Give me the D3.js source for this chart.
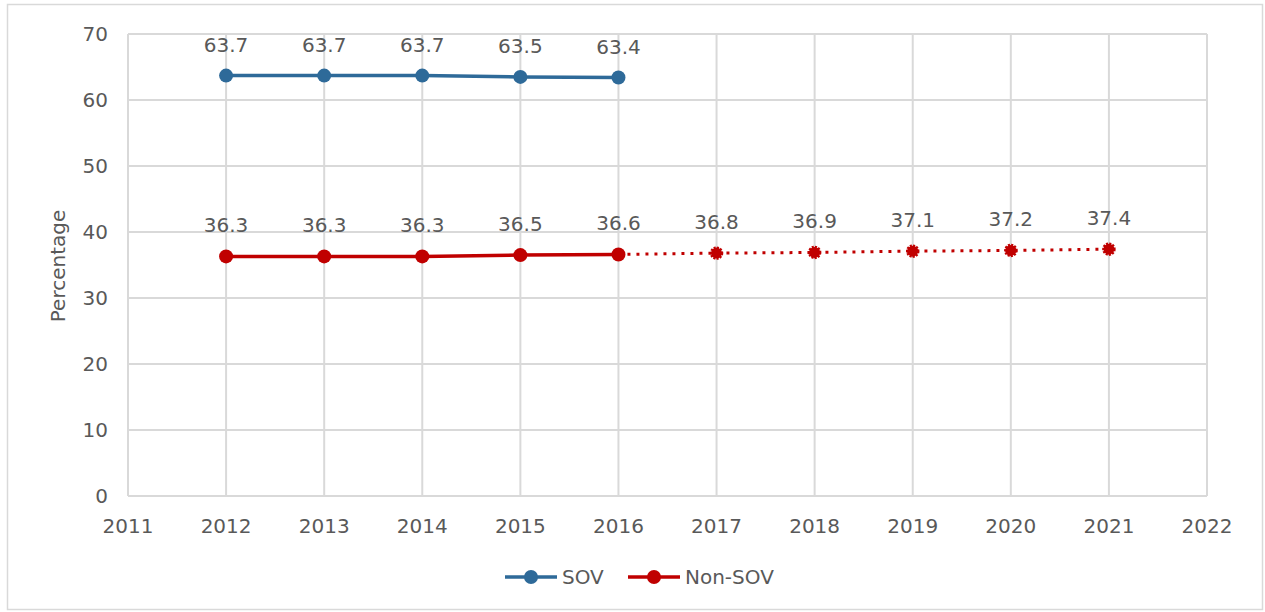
<!DOCTYPE html>
<html>
<head>
<meta charset="utf-8">
<script src="https://cdn.jsdelivr.net/npm/d3@7"></script>
<style>
  body { margin: 0; background: #fff; }
  svg { display: block; }
</style>
</head>
<body>
<div class="chart"></div>
<script>
// data
var yearTicks = [2011, 2012, 2013, 2014, 2015, 2016, 2017, 2018, 2019, 2020, 2021, 2022];
var yTicks = [0, 10, 20, 30, 40, 50, 60, 70];
var sovYears = [2012, 2013, 2014, 2015, 2016];
var sovValues = [63.7, 63.7, 63.7, 63.5, 63.4];
var nonSovYears = [2012, 2013, 2014, 2015, 2016];
var nonSovValues = [36.3, 36.3, 36.3, 36.5, 36.6];
var projYears = [2016, 2017, 2018, 2019, 2020, 2021];
var projValues = [36.6, 36.8, 36.9, 37.1, 37.2, 37.4];

var sovColor = "#2e6a99";
var redColor = "#c00000";
var textColor = "#595959";
var gridColor = "#d9d9d9";
var font = "'DejaVu Sans', Verdana, sans-serif";
var fontSize = "20px";

var svg = d3.select(".chart")
    .append("svg")
    .attr("width", 1265)
    .attr("height", 612);

// outer frame
svg.append("rect")
    .attr("x", 7.5)
    .attr("y", 4.5)
    .attr("width", 1255)
    .attr("height", 605)
    .attr("fill", "#fff")
    .style("stroke", gridColor)
    .style("stroke-width", 1.5);

var x = d3.scaleLinear().domain([2011, 2022]).range([128, 1207]);
var y = d3.scaleLinear().domain([0, 70]).range([496, 34]);

// gridlines
svg.append("g")
    .selectAll("line.h")
    .data(yTicks)
    .enter()
    .append("line")
    .attr("x1", x(2011))
    .attr("x2", x(2022))
    .attr("y1", function (d) { return y(d); })
    .attr("y2", function (d) { return y(d); })
    .style("stroke", gridColor)
    .style("stroke-width", 2);

svg.append("g")
    .selectAll("line.v")
    .data(yearTicks)
    .enter()
    .append("line")
    .attr("x1", function (d) { return x(d); })
    .attr("x2", function (d) { return x(d); })
    .attr("y1", y(0))
    .attr("y2", y(70))
    .style("stroke", gridColor)
    .style("stroke-width", 2);

// tick labels
svg.append("g")
    .selectAll("text")
    .data(yTicks)
    .enter()
    .append("text")
    .attr("x", 108)
    .attr("y", function (d) { return y(d) + 7; })
    .attr("text-anchor", "end")
    .text(function (d) { return d; })
    .style("font-size", fontSize)
    .attr("font-family", font)
    .attr("fill", textColor);

svg.append("g")
    .selectAll("text")
    .data(yearTicks)
    .enter()
    .append("text")
    .attr("x", function (d) { return x(d); })
    .attr("y", 533)
    .attr("text-anchor", "middle")
    .text(function (d) { return d; })
    .style("font-size", fontSize)
    .attr("font-family", font)
    .attr("fill", textColor);

svg.append("text")
    .attr("transform", "translate(65," + 266 + ") rotate(-90)")
    .attr("text-anchor", "middle")
    .text("Percentage")
    .style("font-size", fontSize)
    .attr("font-family", font)
    .attr("fill", textColor);

var line = d3.line()
    .x(function (d) { return x(d[0]); })
    .y(function (d) { return y(d[1]); });

function drawSeries(years, values, color, dashed) {
    var pts = years.map(function (yr, i) { return [yr, values[i]]; });
    svg.append("path")
        .datum(pts)
        .attr("d", line)
        .attr("fill", "none")
        .style("stroke", color)
        .style("stroke-width", dashed ? 3 : 3.5)
        .style("stroke-dasharray", dashed ? "3,6" : null);
}

drawSeries(sovYears, sovValues, sovColor, false);
drawSeries(projYears, projValues, redColor, true);
drawSeries(nonSovYears, nonSovValues, redColor, false);

function drawPoints(years, values, color, jagged) {
    var g = svg.append("g");
    years.forEach(function (yr, i) {
        g.append("circle")
            .attr("cx", x(yr))
            .attr("cy", y(values[i]))
            .attr("r", jagged ? 5.5 : 7)
            .attr("fill", color)
            .style("stroke", jagged ? color : "none")
            .style("stroke-width", jagged ? 2.5 : 0)
            .style("stroke-dasharray", jagged ? "2,1.2" : null);
        g.append("text")
            .attr("x", x(yr))
            .attr("y", y(values[i]) - 24)
            .attr("text-anchor", "middle")
            .text(values[i].toFixed(1))
            .style("font-size", fontSize)
            .attr("font-family", font)
            .attr("fill", textColor);
    });
}

drawPoints(sovYears, sovValues, sovColor, false);
drawPoints(nonSovYears, nonSovValues, redColor, false);
drawPoints(projYears.slice(1), projValues.slice(1), redColor, true);

// legend
var legend = [
    { name: "SOV", color: sovColor, x: 505 },
    { name: "Non-SOV", color: redColor, x: 628 }
];
legend.forEach(function (d) {
    svg.append("line")
        .attr("x1", d.x)
        .attr("x2", d.x + 52)
        .attr("y1", 577)
        .attr("y2", 577)
        .style("stroke", d.color)
        .style("stroke-width", 3.5);
    svg.append("circle")
        .attr("cx", d.x + 26)
        .attr("cy", 577)
        .attr("r", 7)
        .attr("fill", d.color);
    svg.append("text")
        .attr("x", d.x + 57)
        .attr("y", 584)
        .text(d.name)
        .style("font-size", fontSize)
        .attr("font-family", font)
        .attr("fill", textColor);
});
</script>
</body>
</html>
